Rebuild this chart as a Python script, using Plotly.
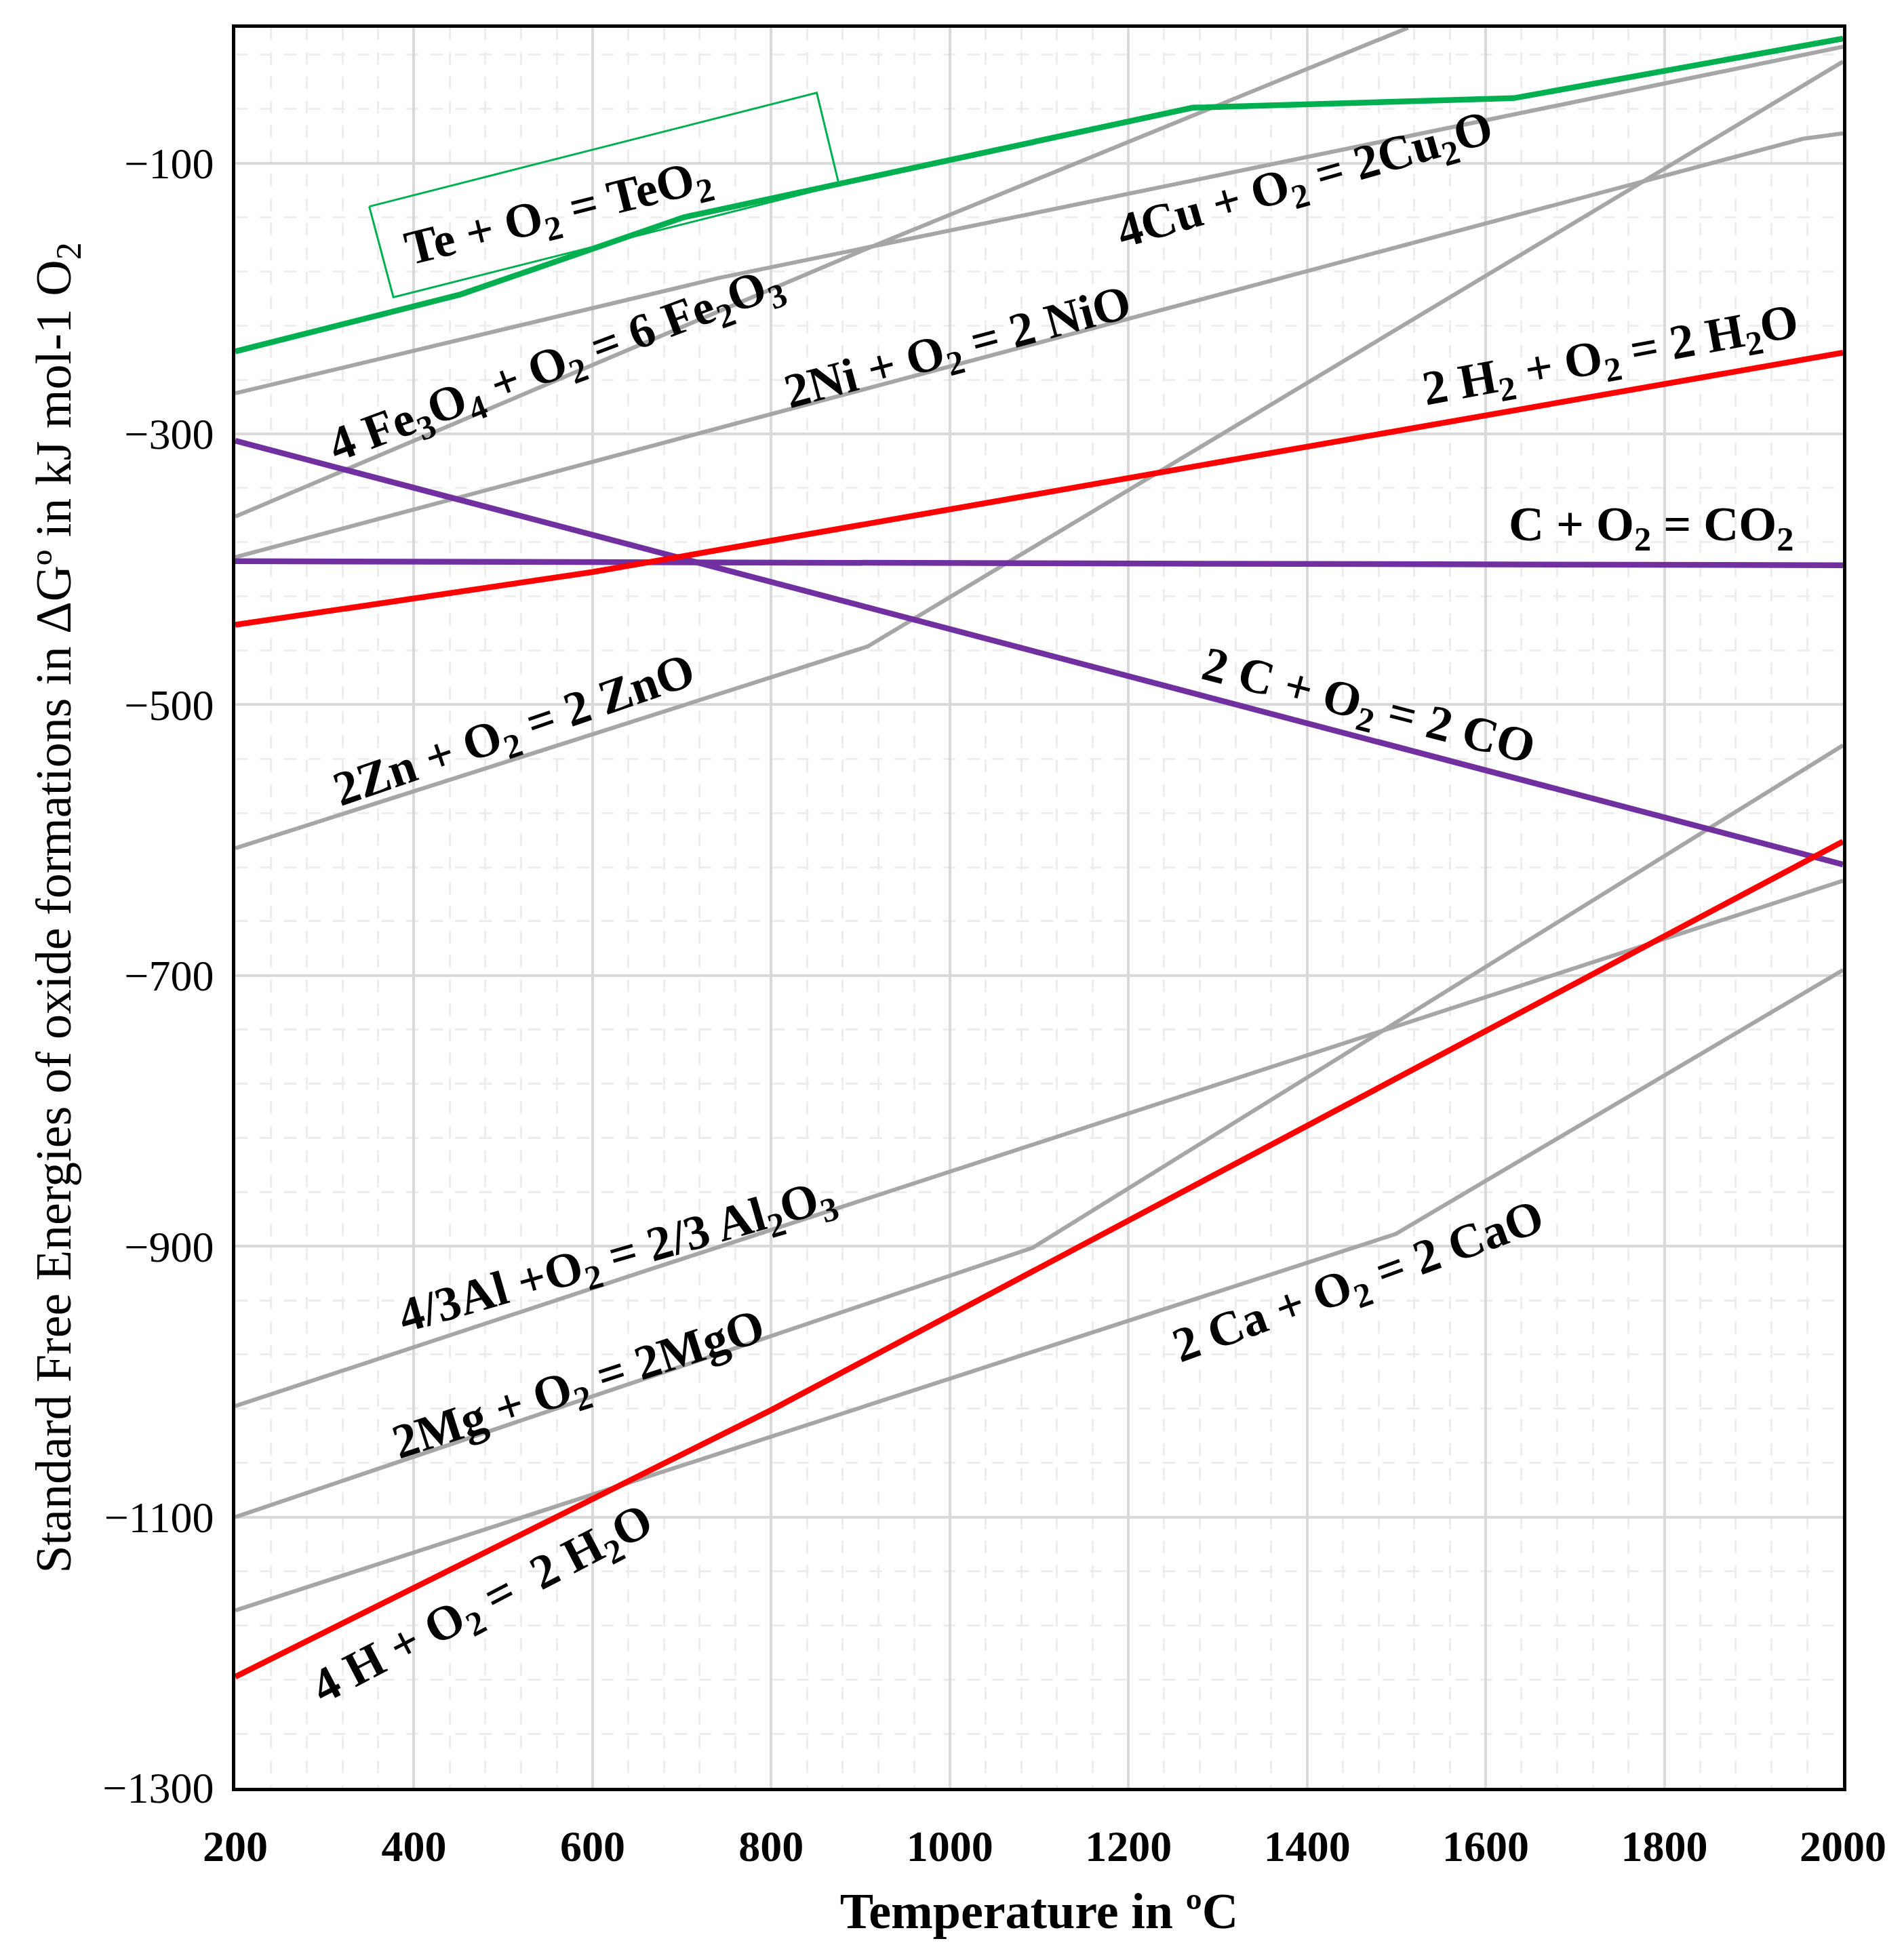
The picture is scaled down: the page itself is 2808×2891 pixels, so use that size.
import plotly.graph_objects as go

# ---------------- data ----------------
T_TE = [200, 452, 702, 1272, 1631, 2000]
G_TE = [-239, -197, -140, -59, -52, -8]

T_CU = [200, 740, 2000]
G_CU = [-270, -185, -14]

T_FE = [200, 904, 1513]
G_FE = [-361, -164, 0]

T_NI = [200, 1955, 2000]
G_NI = [-391, -82, -78]

T_ZN = [200, 908, 2000]
G_ZN = [-606, -457, -25]

T_H2 = [200, 600, 2000]
G_H2 = [-441, -402, -240]

T_CO2 = [200, 2000]
G_CO2 = [-394, -397]

T_CO = [200, 2000]
G_CO = [-305, -618]

T_AL = [200, 660, 2000]
G_AL = [-1018, -918, -630]

T_MG = [200, 1093, 2000]
G_MG = [-1100, -901, -530]

T_CA = [200, 1499, 2000]
G_CA = [-1169, -891, -696]

T_H = [200, 800, 2000]
G_H = [-1218, -1021, -601]

# green frame drawn around the TeO2 label (data coordinates)
TE_BOX_T = [350, 851, 876, 377, 350]
TE_BOX_G = [-132, -48, -116, -199, -132]

LABELS = [
    "Te + O<sub>2</sub> = TeO<sub>2</sub>",
    "4 Fe<sub>3</sub>O<sub>4</sub> + O<sub>2</sub> = 6 Fe<sub>2</sub>O<sub>3</sub>",
    "2Ni + O<sub>2</sub> = 2 NiO",
    "4Cu + O<sub>2</sub> = 2Cu<sub>2</sub>O",
    "2 H<sub>2</sub> + O<sub>2</sub> = 2 H<sub>2</sub>O",
    "C + O<sub>2</sub> = CO<sub>2</sub>",
    "2 C + O<sub>2</sub> = 2 CO",
    "2Zn + O<sub>2</sub> = 2 ZnO",
    "4/3Al +O<sub>2</sub> = 2/3 Al<sub>2</sub>O<sub>3</sub>",
    "2Mg + O<sub>2</sub> = 2MgO",
    "4 H + O<sub>2</sub> =  2 H<sub>2</sub>O",
    "2 Ca + O<sub>2</sub> = 2 CaO",
]

X_TITLE = "Temperature in ºC"
Y_TITLE = "Standard Free Energies of oxide formations in ΔGº in kJ mol-1 O<sub>2</sub>"

# ---------------- styling / placement ----------------
GREEN = "#00b050"
RED = "#ff0000"
PURPLE = "#7030a0"
GRAY = "#a6a6a6"
FONT = "Liberation Serif"

# label placement: (x, y, angle)
LABEL_POS = [
    (562, -138, -14),
    (560, -250, -20.5),
    (1010, -238, -15),
    (1398, -114, -16),
    (1740, -244, -10.5),
    (1785, -369, 0),
    (1468, -503, 14.5),
    (513, -521, -19),
    (628, -909, -16),
    (585, -1004, -18),
    (478, -1166, -27.5),
    (1458, -928, -20),
]

fig = go.Figure()

gray_series = [(T_CU, G_CU), (T_FE, G_FE), (T_NI, G_NI), (T_ZN, G_ZN),
               (T_AL, G_AL), (T_MG, G_MG), (T_CA, G_CA)]
for t, g in gray_series:
    fig.add_trace(go.Scatter(x=t, y=g, mode="lines",
                             line=dict(color=GRAY, width=6), hoverinfo="skip"))

colored = [(T_CO2, G_CO2, PURPLE), (T_CO, G_CO, PURPLE),
           (T_H2, G_H2, RED), (T_H, G_H, RED), (T_TE, G_TE, GREEN)]
for t, g, c in colored:
    fig.add_trace(go.Scatter(x=t, y=g, mode="lines",
                             line=dict(color=c, width=8.5), hoverinfo="skip"))

fig.add_trace(go.Scatter(x=TE_BOX_T, y=TE_BOX_G, mode="lines",
                         line=dict(color=GREEN, width=3), hoverinfo="skip"))

for txt, (x, y, ang) in zip(LABELS, LABEL_POS):
    fig.add_annotation(x=x, y=y, xref="x", yref="y", text=txt, showarrow=False,
                       textangle=ang,
                       font=dict(family=FONT, size=72, color="black", weight="bold"))

fig.update_layout(
    width=2808, height=2891,
    margin=dict(l=339, r=98, t=33, b=262),
    autosize=False,
    paper_bgcolor="white", plot_bgcolor="white",
    showlegend=False,
    font=dict(family=FONT, color="black"),
)

fig.update_xaxes(
    range=[200, 2000], tick0=200, dtick=200,
    showgrid=True, gridcolor="#d9d9d9", gridwidth=4,
    minor=dict(tick0=200, dtick=40, showgrid=True, gridcolor="#ededed",
               gridwidth=3, griddash="18px,18px"),
    showline=True, linecolor="black", linewidth=4.5, mirror=True,
    zeroline=False, ticks="",
    tickfont=dict(family=FONT, size=64, weight="bold"),
    ticklabelstandoff=26,
    title=dict(text=X_TITLE, font=dict(family=FONT, size=74, weight="bold"), standoff=36),
    automargin=False,
)
fig.update_yaxes(
    range=[-1300, 0], tick0=-1300, dtick=200,
    showgrid=True, gridcolor="#d9d9d9", gridwidth=3.5,
    minor=dict(tick0=-1300, dtick=40, showgrid=True, gridcolor="#ededed",
               gridwidth=3, griddash="18px,18px"),
    showline=True, linecolor="black", linewidth=4.5, mirror=True,
    zeroline=False, ticks="",
    tickfont=dict(family=FONT, size=64),
    ticklabelstandoff=14,
    title=dict(text=Y_TITLE, font=dict(family=FONT, size=74), standoff=24),
    automargin=False,
)

fig.write_html("out.html")
